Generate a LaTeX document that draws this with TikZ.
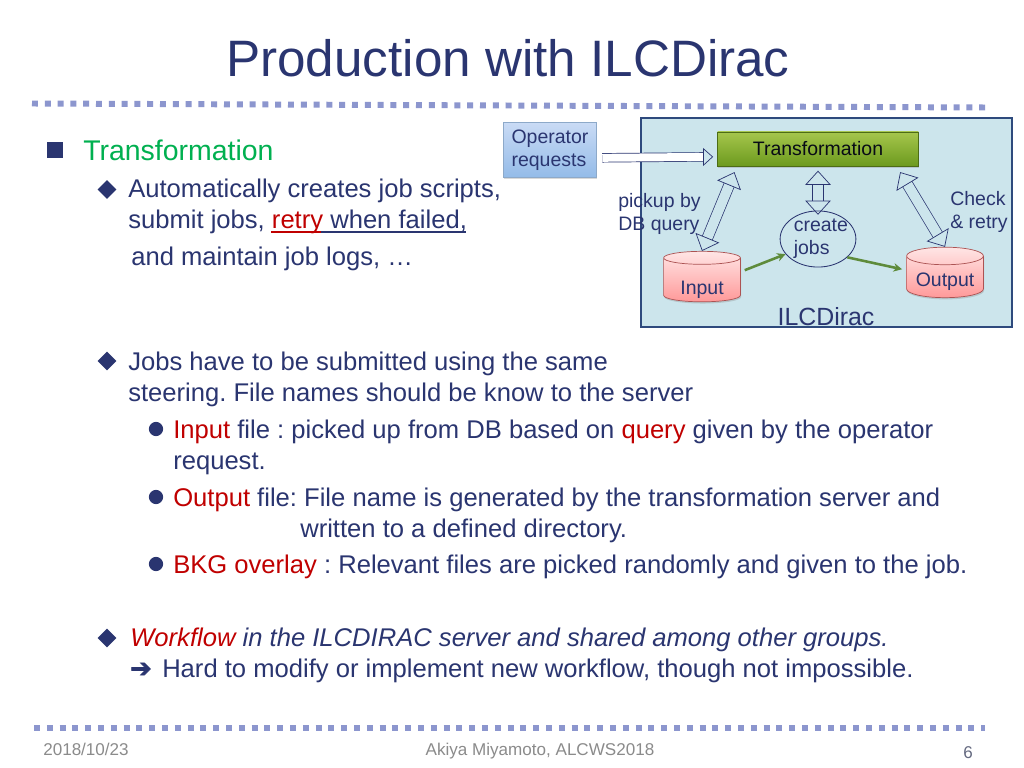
\documentclass[tikz,border=0pt]{standalone}
\usepackage{fontspec}
\setmainfont{Liberation Sans}
\newfontfamily\symfont[FakeBold=2.5]{DejaVu Sans}
\usetikzlibrary{arrows.meta,shapes.geometric,shadows}
\definecolor{navy}{HTML}{2A3570}
\definecolor{redtxt}{HTML}{C00000}
\definecolor{greentxt}{HTML}{00B050}
\definecolor{graytxt}{HTML}{8B8B8B}
\definecolor{dotblue}{HTML}{8C96CE}
\definecolor{boxblue}{HTML}{CCE5EC}
\definecolor{boxline}{HTML}{2E4A7D}
\definecolor{flowgreen}{HTML}{5E8B3B}
\definecolor{optop}{HTML}{CADBF5}
\definecolor{opbot}{HTML}{93BBE8}
\definecolor{trtop}{HTML}{A6C64C}
\definecolor{trbot}{HTML}{6C9A1E}
\newcommand{\red}[1]{\textcolor{redtxt}{#1}}
\frenchspacing
\tikzset{
  txt/.style={anchor=base west,inner sep=0pt,text=navy,font=\fontsize{18}{18}\selectfont},
  small/.style={inner sep=0pt,text=navy,align=left,font=\fontsize{13.7}{16.2}\selectfont},
  dots/.style={dotblue,line width=4.2pt,dash pattern=on 4.2pt off 4.8pt},
  hollow/.style={draw=navy,line width=0.5pt,double=boxblue,double distance=7pt,>={Triangle[open,length=10pt,width=18pt]}},
  flow/.style={draw=flowgreen,line width=1.8pt,-{Stealth[length=6pt,width=6pt]}},
  softshadow/.style={drop shadow={opacity=0.3,shadow xshift=0.5pt,shadow yshift=-1.2pt}},
  dbase/.style={small,cylinder,shape border rotate=90,aspect=0.3,draw=red!35!gray,line width=0.5pt,top color=red!10,bottom color=red!40,minimum width=54pt,minimum height=35.5pt,softshadow},
}
\begin{document}
\begin{tikzpicture}[x=0.703125pt,y=-0.703125pt]
    \useasboundingbox[fill=white] (0,0) rectangle (1024,768);
    \node[anchor=base,inner sep=0pt,text=navy,font=\fontsize{36}{36}\selectfont] (title) at (508,77) {Production with ILCDirac};
    \draw[dots] (32,103.5) -- (985,107.5);
    \draw[dots] (34,728) -- (985,728);

    % Text on the left
    \node[rectangle,fill=navy,minimum size=11.5pt,inner sep=0pt] (sq) at (55,150) {};
    \node[txt,text=greentxt,font=\fontsize{20}{20}\selectfont] (head) at (83,161) {Transformation};
    \foreach \y in {189.5,361,638} \node[diamond,fill=navy,minimum size=13.5pt,inner sep=0pt] (dm\y) at (107,\y) {};
    \foreach \y in {429,497,564} \node[circle,fill=navy,minimum size=10pt,inner sep=0pt] (ci\y) at (156,\y) {};

    \node[txt] (l1) at (128,198) {Automatically creates job scripts,};
    \node[txt] (l2) at (128,229) {submit jobs, \red{retry} when failed,};
    \node[txt] (l3) at (131,266) {and maintain job logs, …};
    \draw[redtxt,line width=0.8pt] (271,232) -- (321,232);
    \draw[navy,line width=0.8pt] (321,232) -- (466,232);
    \node[txt] (l4) at (128,370) {Jobs have to be submitted using the same};
    \node[txt] (l5) at (128,401) {steering. File names should be know to the server};
    \node[txt] (l6) at (173,438) {\red{Input} file : picked up from DB based on \red{query} given by the operator};
    \node[txt] (l7) at (173,469) {request.};
    \node[txt] (l8) at (173,506) {\red{Output} file: File name is generated by the transformation server and};
    \node[txt] (l9) at (300,537) {written to a defined directory.};
    \node[txt] (l10) at (173,573) {\red{BKG overlay} : Relevant files are picked randomly and given to the job.};
    \node[txt] (l11) at (130,646) {\itshape \red{Workflow} in the ILCDIRAC server and shared among other groups.};
    \node[txt] (l12) at (130,677) {{\symfont ➔}\hspace{2.4pt} Hard to modify or implement new workflow, though not impossible.};

    % Footer
    \node[txt,text=graytxt,font=\fontsize{12}{12}\selectfont] (date) at (43,755) {2018/10/23};
    \node[txt,anchor=base,text=graytxt,font=\fontsize{12}{12}\selectfont] (who) at (540,755) {Akiya Miyamoto, ALCWS2018};
    \node[txt,anchor=base,text=graytxt!60!navy,font=\fontsize{12}{12}\selectfont] (page) at (968,758) {6};

    % ILCDirac box
    \draw[fill=boxblue,draw=boxline,line width=1pt] (641,118) rectangle (1012,327);
    \node[small,anchor=base,font=\fontsize{17.5}{18}\selectfont] (ilc) at (826,325) {ILCDirac};
    \node[small,rectangle,draw=opbot!70!gray,line width=0.5pt,top color=optop,bottom color=opbot,minimum width=65pt,minimum height=39pt,softshadow] (operator) at (550,150) {Operator\\requests};
    \node[small,rectangle,draw=trbot!70!black,line width=0.5pt,text=black!80!navy,top color=trtop,bottom color=trbot,minimum width=141pt,minimum height=24pt,softshadow] (transformation) at (818,149) {Transformation};
    \node[dbase] (input) at (702,280) {\raisebox{-10pt}[0pt][0pt]{Input}};
    \node[dbase] (output) at (945,277) {\raisebox{-7pt}[0pt][0pt]{Output}};
    \node[small,ellipse,draw=navy,line width=0.6pt,inner xsep=-2.2pt,minimum width=53pt,minimum height=38pt] (jobs) at (818,239) {\hspace*{4pt}create\\\hspace*{4pt}jobs};
    \node[small,anchor=base west] (pick) at (618,231) {pickup by\\DB query};
    \node[small,anchor=base west] (check) at (950,229) {Check\\\& retry};

    % Connectors
    \draw[hollow,double=white,double distance=5.6pt,>={Triangle[open,length=7pt,width=12.5pt]},->] ([xshift=4pt,yshift=-5.5pt]operator.east) -- ([xshift=-3pt,yshift=-5.5pt]transformation.west);
    \draw[hollow,<->] (input.north) -- ([xshift=12pt,yshift=-4pt]transformation.south west);
    \draw[hollow,<->] ([yshift=-3pt]transformation.south) -- ([yshift=-3pt]jobs.north);
    \draw[hollow,<->] ([xshift=-13pt,yshift=-4pt]transformation.south east) -- (output.north);
    \draw[flow,shorten <=3pt] (input.12) -- (jobs.205);
    \draw[flow,shorten >=3pt] (jobs.328) -- (output.170);
\end{tikzpicture}
\end{document}
